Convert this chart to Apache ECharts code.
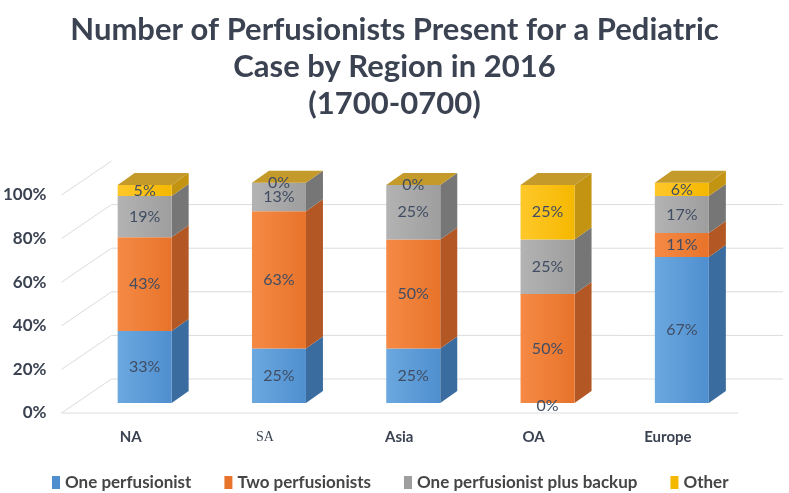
<!DOCTYPE html>
<html>
<head>
<meta charset="utf-8">
<script src="https://cdn.jsdelivr.net/npm/echarts@6/dist/echarts.min.js"></script>
<style>
  html, body { margin: 0; padding: 0; background: #fff; }
  #chart { width: 789px; height: 493px; }
</style>
</head>
<body>
<div id="chart"></div>
<script>
const categories = ['NA', 'SA', 'Asia', 'OA', 'Europe'];
const onePerfusionist = [33, 25, 25, 0, 67];
const twoPerfusionists = [43, 63, 50, 50, 11];
const plusBackup = [19, 13, 25, 25, 17];
const other = [5, 0, 0, 25, 6];
const yTicks = [0, 20, 40, 60, 80, 100];

// 3D look of the Excel column chart
const BAR_W = 54;
const FRONT = { dx: 14, dy: -10 };
const DEPTH = { dx: 17, dy: -12 };
const WALL = { dx: 48, dy: -34 };
const TEXT = '#3b4352';

const stacks = [
  { name: 'One perfusionist', values: onePerfusionist, front: ['#6ba8e0', '#4f8fcf'], side: '#3b6c9f' },
  { name: 'Two perfusionists', values: twoPerfusionists, front: ['#f58a45', '#e8732a'], side: '#b35824' },
  { name: 'One perfusionist plus backup', values: plusBackup, front: ['#b3b3b3', '#9e9e9e'], side: '#767676' },
  { name: 'Other', values: other, front: ['#ffc82a', '#f5b800'], side: '#c39312' }
];
const TOP_COLOR = '#c49a2a';

const chart = echarts.init(document.getElementById('chart'));

const base = categories.map(() => 0);
const barSeries = stacks.map((s, si) => {
  const data = s.values.map((v, j) => {
    const lo = base[j];
    base[j] += v;
    return [j, lo, base[j], v];
  });
  const isTop = si === stacks.length - 1;
  return {
    type: 'custom',
    name: s.name,
    itemStyle: { color: s.front[1] },
    z: 3,
    data,
    renderItem(params, api) {
      const cat = api.value(0);
      const bottom = api.coord([cat, api.value(1)]);
      const top = api.coord([cat, api.value(2)]);
      const x0 = bottom[0] + FRONT.dx - BAR_W / 2;
      const x1 = x0 + BAR_W;
      const yb = bottom[1] + FRONT.dy;
      const yt = top[1] + FRONT.dy;
      const children = [
        {
          type: 'polygon',
          shape: { points: [[x1, yt], [x1 + DEPTH.dx, yt + DEPTH.dy], [x1 + DEPTH.dx, yb + DEPTH.dy], [x1, yb]] },
          style: { fill: s.side }
        },
        {
          type: 'rect',
          shape: { x: x0, y: yt, width: BAR_W, height: yb - yt },
          style: {
            fill: new echarts.graphic.LinearGradient(0, 0, 1, 0, [
              { offset: 0, color: s.front[0] },
              { offset: 1, color: s.front[1] }
            ])
          }
        }
      ];
      if (isTop) {
        children.push({
          type: 'polygon',
          shape: { points: [[x0, yt], [x1, yt], [x1 + DEPTH.dx, yt + DEPTH.dy], [x0 + DEPTH.dx, yt + DEPTH.dy]] },
          style: { fill: TOP_COLOR }
        });
      }
      children.push({
        type: 'text',
        z2: 10,
        style: {
          text: api.value(3) + '%',
          x: (x0 + x1) / 2,
          y: (yt + yb) / 2 + (api.value(3) === 0 && api.value(1) === 0 ? 3 : 0),
          align: 'center',
          verticalAlign: 'middle',
          fill: '#404d63',
          font: '16px Lato'
        }
      });
      return { type: 'group', children };
    }
  };
});

const gridSeries = {
  type: 'custom',
  silent: true,
  z: 1,
  data: yTicks.map(v => [0, v]),
  renderItem(params, api) {
    const cs = params.coordSys;
    const y = api.coord([0, api.value(1)])[1];
    const left = cs.x;
    const right = cs.x + cs.width;
    const line = (x1, y1, x2, y2) => ({
      type: 'line',
      shape: { x1, y1, x2, y2 },
      style: { stroke: '#dcdcdc', lineWidth: 1 }
    });
    const children = [line(left - 2, y, left + WALL.dx, y + WALL.dy)];
    if (api.value(1) < 100) {
      children.push(line(left + WALL.dx, y + WALL.dy, right + WALL.dx, y + WALL.dy));
    }
    if (api.value(1) === 0) {
      children.push(line(left - 2, y, right + 3, y));
    }
    return { type: 'group', children };
  }
};

chart.setOption({
  animation: false,
  backgroundColor: '#ffffff',
  title: {
    text: 'Number of Perfusionists Present for a Pediatric\nCase by Region in 2016\n(1700-0700)',
    left: 'center',
    top: 11,
    padding: 0,
    textStyle: {
      fontFamily: 'Lato',
      fontWeight: 'bold',
      fontSize: 31,
      lineHeight: 37,
      color: TEXT
    }
  },
  legend: {
    data: stacks.map(s => s.name),
    left: 52,
    top: 474,
    padding: 0,
    icon: 'rect',
    itemWidth: 8,
    itemHeight: 13,
    itemGap: 33,
    textStyle: { fontFamily: 'Lato', fontWeight: 'bold', fontSize: 17, color: '#454545' }
  },
  grid: { left: 60, right: 54, top: 195, bottom: 80 },
  xAxis: {
    type: 'category',
    data: categories,
    axisLine: { show: false },
    axisTick: { show: false },
    axisLabel: {
      margin: 17,
      fontFamily: 'Lato',
      fontWeight: 'bold',
      fontSize: 15,
      color: TEXT,
      formatter: v => (v === 'SA' ? '{serif|SA}' : v),
      rich: {
        serif: { fontFamily: 'Liberation Serif', fontSize: 14, fontWeight: 'normal', color: TEXT }
      }
    }
  },
  yAxis: {
    type: 'value',
    min: 0,
    max: 100,
    interval: 20,
    axisLine: { show: false },
    axisTick: { show: false },
    splitLine: { show: false },
    axisLabel: {
      margin: 17,
      fontFamily: 'Lato',
      fontWeight: 'bold',
      fontSize: 17,
      color: TEXT,
      formatter: '{value}%'
    }
  },
  series: [gridSeries, ...barSeries]
});
</script>
</body>
</html>
